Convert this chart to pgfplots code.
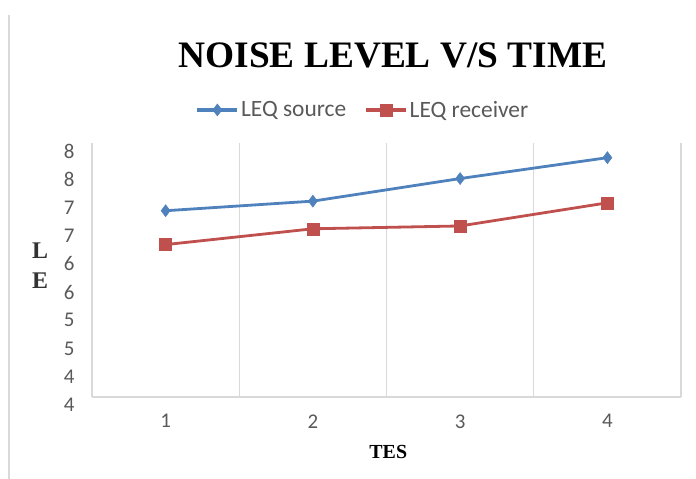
\documentclass[border=0pt]{standalone}
\usepackage{fontspec}
\setmainfont{Liberation Serif}
\newfontfamily\carlito{Carlito}
\usepackage{pgfplots}
\pgfplotsset{compat=1.18}
\definecolor{sblue}{HTML}{4F81BD}
\definecolor{sred}{HTML}{C0504D}
\definecolor{gridgray}{HTML}{D9D9D9}
\definecolor{txtgray}{HTML}{595959}
\begin{document}
\begin{tikzpicture}[x=1bp,y=1bp]
\useasboundingbox (0,0) rectangle (696,479);
\draw[gridgray, line width=1.5bp] (9,0) -- (9,464);
\node[font=\bfseries\fontsize{37.5}{40}\selectfont, anchor=center] at (393,424) {NOISE LEVEL V/S TIME};
\begin{axis}[
 at={(92bp,82bp)}, anchor=south west, scale only axis, width=589bp, height=254bp,
 xmin=0.5, xmax=4.5, ymin=3.5, ymax=8,
 axis x line*=bottom, axis y line*=left,
 axis line style={gridgray, line width=1.2bp, -},
 xtick={1,2,3,4}, xticklabels={1,2,3,4},
 ytick={3.5,4,...,8}, yticklabels={4,4,5,5,6,6,7,7,8,8},
 minor xtick={1.5,2.5,3.5,4.5}, xminorgrids,
 minor grid style={gridgray, line width=1.2bp},
 major tick length=0pt, minor tick length=0pt,
 /pgf/number format/assume math mode=true,
 tick label style={font=\carlito\fontsize{21}{25}\selectfont, text=txtgray},
 xticklabel style={yshift=-14bp},
 yticklabel style={xshift=-14bp, yshift=-8bp},
 clip=false,
 legend style={at={(axis description cs:0.46,1.13)}, anchor=center, draw=none, fill=none,
   font=\carlito\fontsize{23.5}{27}\selectfont, text=txtgray,
   /tikz/every even column/.append style={column sep=16bp}},
 legend columns=2,
 legend image code/.code={\draw[#1, line width=3.5bp] (0bp,0bp) -- (40bp,0bp); \draw[#1, line width=0.5bp] plot coordinates {(20bp,0bp)};},
]
\addplot[sblue, line width=2.8bp, mark=diamond*, mark size=6bp, mark options={solid, fill=sblue, draw=sblue, line width=0.5bp}]
 coordinates {(1,6.80) (2,6.97) (3,7.37) (4,7.74)};
\addlegendentry{LEQ source}
\addplot[sred, line width=2.8bp, mark=square*, mark size=6bp, mark options={solid, fill=sred, draw=sred, line width=0.5bp}]
 coordinates {(1,6.20) (2,6.48) (3,6.53) (4,6.94)};
\addlegendentry{LEQ receiver}
\node[font=\bfseries\fontsize{24}{30}\selectfont, align=center, text=black!80] at (axis description cs:-0.088,0.516) {L\\E};
\node[font=\bfseries\fontsize{20}{24}\selectfont] at (axis description cs:0.503,-0.2165) {TES};
\end{axis}
\end{tikzpicture}
\end{document}
